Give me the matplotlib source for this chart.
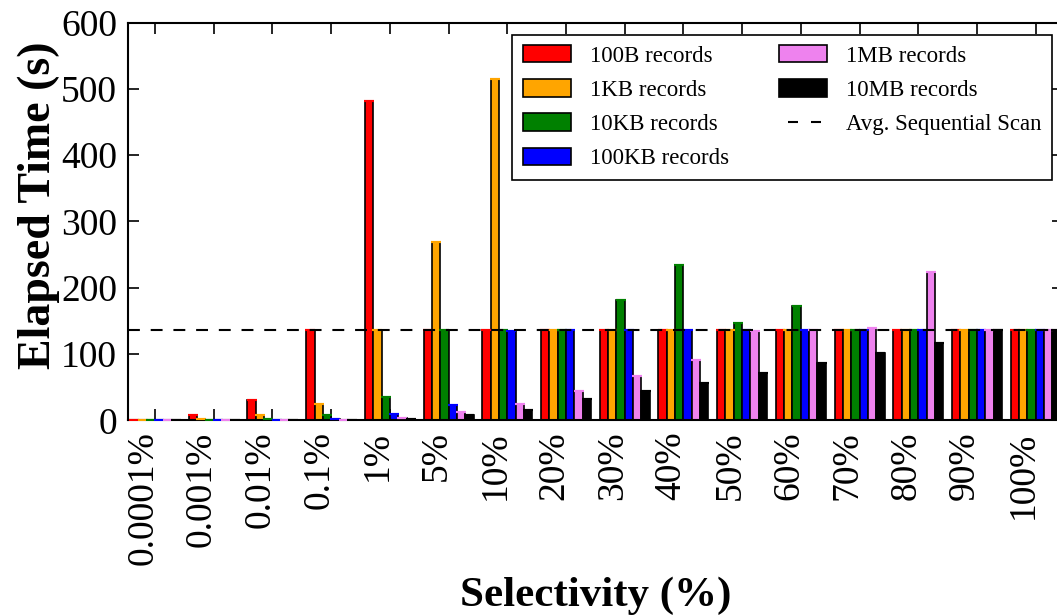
import numpy as np
import matplotlib
matplotlib.use('Agg')
import matplotlib.pyplot as plt
import matplotlib.transforms as mtransforms
from matplotlib.patches import Patch
from matplotlib.lines import Line2D

plt.rcParams['font.family'] = ['Liberation Serif', 'DejaVu Serif']

# selectividades no eixo x
selectivity = ['0.0001%', '0.001%', '0.01%', '0.1%', '1%', '5%', '10%', '20%',
               '30%', '40%', '50%', '60%', '70%', '80%', '90%', '100%']

# tempos (s), um vetor por tamanho de registro
rec_100B  = [0.6, 8.0, 30.6, 136, 482, 136, 136, 136, 136, 136, 136, 136, 136, 136, 136, 136]
rec_1KB   = [0.3, 2.0, 8.0, 24.0, 136, 269, 515, 136, 136, 136, 136, 136, 136, 136, 136, 136]
rec_10KB  = [0.2, 0.3, 2.0, 8.0, 34.7, 136, 136, 136, 181.5, 233.6, 146, 172, 136, 136, 136, 136]
rec_100KB = [0.2, 0.2, 0.5, 1.5, 9.0, 22.6, 134, 136, 136, 136, 136, 136, 136, 136, 136, 136]
rec_1MB   = [0.2, 0.2, 0.3, 0.5, 4.0, 12.0, 24.6, 44.6, 67.0, 90.4, 135, 136, 139, 223, 136, 136]
rec_10MB  = [0.2, 0.2, 0.2, 0.3, 2.0, 8.0, 15.8, 31.6, 44.6, 56.5, 72.0, 86.0, 102, 116, 136, 136]
seq_scan = 136

series = [rec_100B, rec_1KB, rec_10KB, rec_100KB, rec_1MB, rec_10MB]
nomes = ['100B records', '1KB records', '10KB records', '100KB records', '1MB records', '10MB records']
cores = ['red', 'orange', 'green', 'blue', 'violet', 'black']

fig = plt.figure(figsize=(10.57, 6.15), dpi=100)
ax = fig.add_axes([0.1214, 0.3166, 0.8847, 0.6468])

ind = np.arange(len(selectivity))
width = 0.142

for k in range(len(series)):
    x = ind + k*width
    ax.bar(x, series[k], width, align='edge', color=cores[k], edgecolor='black', linewidth=1.2, zorder=2)
    # "caps" coloridos no topo das barras
    ax.errorbar(x + width/2, series[k], yerr=0, fmt='none', ecolor=cores[k], capsize=3.5, capthick=1.5, zorder=3)

tracos = (5.7, 5.2)
ax.axhline(seq_scan, color='black', linestyle='--', dashes=tracos, linewidth=1.5, zorder=4)

ax.set_xlim(-0.03, 15.9)
ax.set_ylim(0, 600)
ax.set_yticks([0, 100, 200, 300, 400, 500, 600])
ax.set_xticks(ind + 3*width)
ax.set_xticklabels(selectivity, rotation=90, ha='center')
ax.tick_params(direction='in', length=8, width=1.2, top=True, right=True, labelsize=27)
ax.tick_params(axis='y', pad=8)
ax.tick_params(axis='x', pad=8)
for s in ax.spines.values():
    s.set_linewidth(1.5)

# desloca os rotulos do x um pouco para a esquerda (como no original)
desloca = mtransforms.ScaledTranslation(-0.12, 0, fig.dpi_scale_trans)
for lab in ax.get_xticklabels():
    lab.set_transform(lab.get_transform() + desloca)

ax.set_ylabel('Elapsed Time (s)', fontsize=33, fontweight='bold')
ax.yaxis.set_label_coords(-0.073, 0.54)
ax.set_xlabel('Selectivity (%)', fontsize=31, fontweight='bold', labelpad=8)

handles = [Patch(facecolor=c, edgecolor='black', linewidth=1.2) for c in cores]
handles.append(Line2D([], [], color='black', linestyle=(6.72, (4.8, 6.24)), linewidth=1.5))
labels = nomes + ['Avg. Sequential Scan']
leg = ax.legend(handles, labels, loc='upper right', ncol=2, fontsize=16.5, fancybox=False,
                framealpha=1, edgecolor='black', handlelength=2.1, handleheight=0.79,
                handletextpad=0.85, columnspacing=2.15, labelspacing=0.55, borderaxespad=0,
                borderpad=0.45, bbox_to_anchor=(0.988, 0.9696))
leg.get_frame().set_linewidth(1.2)

plt.savefig('out.png', dpi=100)
